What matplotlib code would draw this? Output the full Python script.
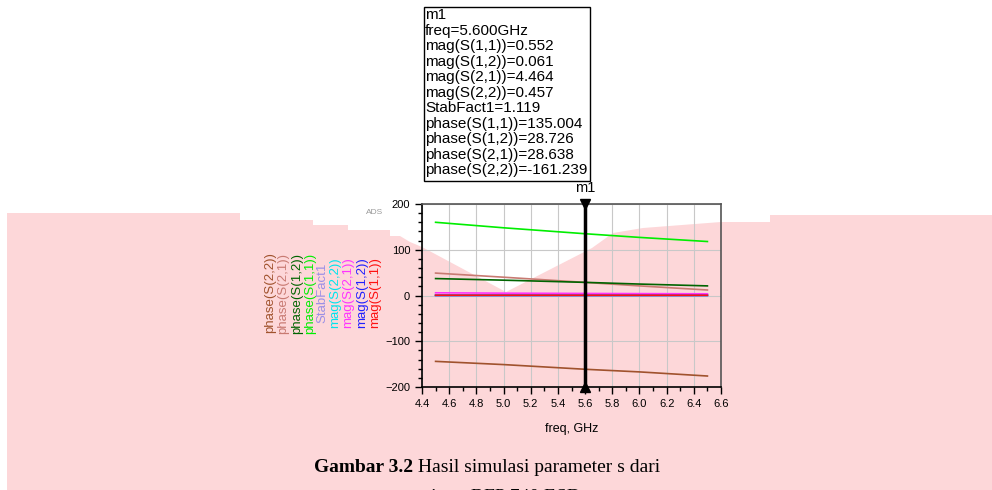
import matplotlib
matplotlib.use("Agg")
import matplotlib.pyplot as plt
from matplotlib.patches import Polygon, Rectangle
from matplotlib.ticker import MultipleLocator

plt.rcParams["font.family"] = ["Liberation Sans", "DejaVu Sans"]

# Data (freq in GHz)
freq = [4.5, 5.0, 5.6, 6.0, 6.5]
phase_s11 = [160, 148, 135.004, 127, 118]
phase_s12 = [37, 33.5, 28.726, 25, 21]
phase_s21 = [49, 40, 28.638, 21, 12]
phase_s22 = [-144, -151, -161.239, -167, -176]
mag_s11 = [0.60, 0.58, 0.552, 0.53, 0.50]
mag_s12 = [0.05, 0.055, 0.061, 0.065, 0.07]
mag_s21 = [5.9, 5.1, 4.464, 4.1, 3.7]
mag_s22 = [0.50, 0.48, 0.457, 0.44, 0.42]
stab_fact = [0.95, 1.05, 1.119, 1.15, 1.20]

marker_freq = 5.6
marker_lines = [
    "m1",
    "freq=5.600GHz",
    "mag(S(1,1))=0.552",
    "mag(S(1,2))=0.061",
    "mag(S(2,1))=4.464",
    "mag(S(2,2))=0.457",
    "StabFact1=1.119",
    "phase(S(1,1))=135.004",
    "phase(S(1,2))=28.726",
    "phase(S(2,1))=28.638",
    "phase(S(2,2))=-161.239",
]

series = [
    ("phase(S(2,2))", phase_s22, "#a0522d"),
    ("phase(S(2,1))", phase_s21, "#c87a72"),
    ("phase(S(1,2))", phase_s12, "#006400"),
    ("phase(S(1,1))", phase_s11, "#00ee00"),
    ("StabFact1", stab_fact, "#9b8fe6"),
    ("mag(S(2,2))", mag_s22, "#00e5ee"),
    ("mag(S(2,1))", mag_s21, "#ff33ff"),
    ("mag(S(1,2))", mag_s12, "#2020ff"),
    ("mag(S(1,1))", mag_s11, "#ff1010"),
]

caption_bold = "Gambar 3.2"
caption_rest = " Hasil simulasi parameter s dari"
caption_line2 = "transistor BFP 740 ESD"

W, H = 992, 490
fig = plt.figure(figsize=(W / 100, H / 100), dpi=100)
fig.patch.set_facecolor("white")


def fx(px):
    return px / W


def fy(py):
    return 1 - py / H


# pink highlight behind the chart (page background of the source document)
pink_px = [(7, 213), (240, 213), (240, 220), (313, 220), (313, 225), (348, 225),
           (348, 230), (390, 230), (390, 236), (400, 236), (410, 242), (422, 247),
           (506, 292), (592, 248), (613, 233), (643, 228), (721, 222), (770, 222),
           (770, 215), (992, 215), (992, 490), (7, 490)]
fig.patches.append(Polygon([(fx(x), fy(y)) for x, y in pink_px], closed=True,
                           transform=fig.transFigure, facecolor="#fdd7d9",
                           edgecolor="none", zorder=0))

ax = fig.add_axes([fx(422), fy(387), fx(721) - fx(422), (387 - 204) / H])
ax.patch.set_alpha(0)
ax.set_zorder(2)

for name, vals, col in series:
    ax.plot(freq, vals, color=col, lw=1.2, zorder=3)

ax.set_xlim(4.4, 6.6)
ax.set_ylim(-200, 200)
ax.xaxis.set_major_locator(MultipleLocator(0.2))
ax.xaxis.set_minor_locator(MultipleLocator(0.1))
ax.yaxis.set_major_locator(MultipleLocator(100))
ax.yaxis.set_minor_locator(MultipleLocator(20))
ax.set_xticklabels([f"{v:.1f}" for v in ax.get_xticks()])
ax.grid(True, which="major", color="#c8c8c8", lw=0.8, zorder=1)
ax.tick_params(which="major", length=5, width=1, labelsize=8, direction="out")
ax.tick_params(which="minor", length=3, width=1, direction="out")
for side in ("left", "bottom"):
    ax.spines[side].set_linewidth(1.2)
for side in ("top", "right"):
    ax.spines[side].set_color("#555555")
    ax.spines[side].set_linewidth(1.2)
ax.set_xlabel("freq, GHz", fontsize=9, labelpad=10)

# marker m1
ax.axvline(marker_freq, color="black", lw=2.5, zorder=5)
ax.plot([marker_freq], [200], marker="v", color="black", ms=7, clip_on=False, zorder=6)
ax.plot([marker_freq], [-200], marker="^", color="black", ms=7, clip_on=False, zorder=6)
fig.text(fx(585), fy(188), "m1", fontsize=10.5, ha="center", va="center")

fig.patches.append(Rectangle((fx(424), fy(181)), fx(590) - fx(424), (181 - 7) / H,
                             transform=fig.transFigure, facecolor="white",
                             edgecolor="black", lw=1.0, zorder=3))
fig.text(fx(425), fy(8), "\n".join(marker_lines), fontsize=11, ha="left", va="top",
         linespacing=1.14, zorder=4)

fig.text(fx(375), fy(212), "ADS", fontsize=6, color="#999999", ha="center", va="center")

# rotated legend labels
leg_x = [270, 283, 297, 310, 322, 335, 348, 362, 375]
for (name, vals, col), x in zip(series, leg_x):
    fig.text(fx(x), fy(293), name, rotation=90, color=col, fontsize=9.5,
             ha="center", va="center")

# caption: bold part + regular part, centred together
cap_center = 487
renderer = fig.canvas.get_renderer()
t1 = fig.text(0, fy(467), caption_bold, family="Liberation Serif", weight="bold",
              fontsize=14, ha="left", va="center")
t2 = fig.text(0, fy(467), caption_rest, family="Liberation Serif",
              fontsize=14, ha="left", va="center")
w1 = t1.get_window_extent(renderer).width
w2 = t2.get_window_extent(renderer).width
x0 = cap_center - (w1 + w2) / 2
t1.set_x(fx(x0))
t2.set_x(fx(x0 + w1))
fig.text(fx(cap_center), fy(497), caption_line2, family="Liberation Serif",
         fontsize=14, ha="center", va="center")

fig.savefig("out.png", dpi=100)
